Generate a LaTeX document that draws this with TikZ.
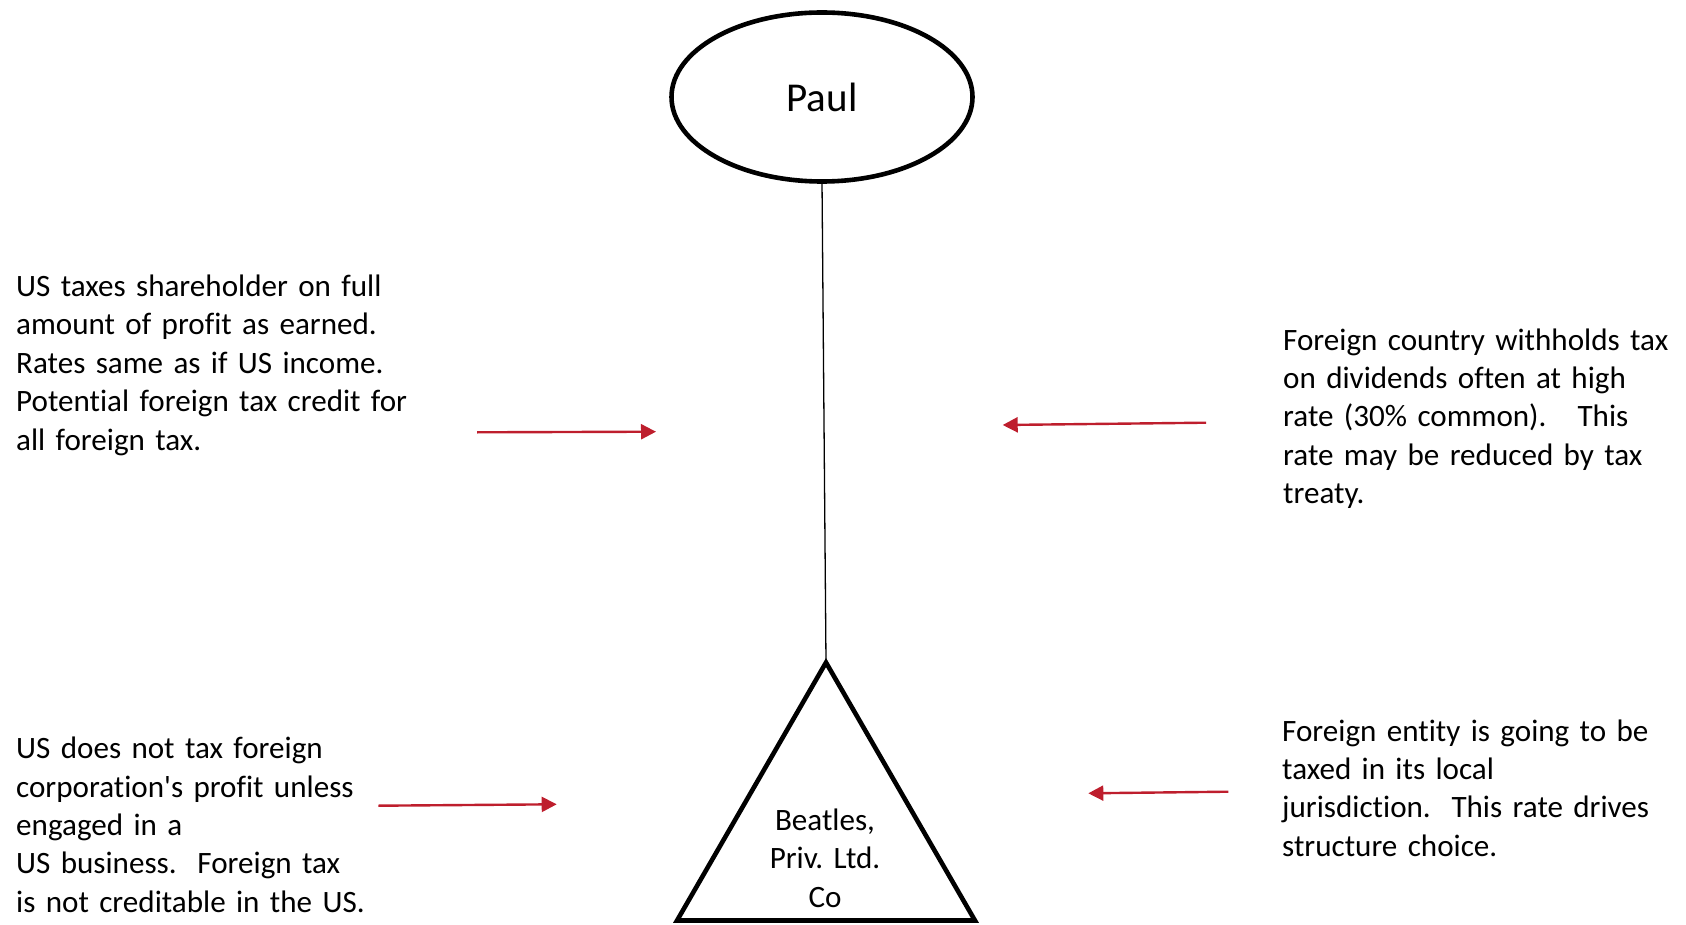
\documentclass[tikz,border=0pt]{standalone}
\usepackage{fontspec}
\setmainfont{Carlito}[Ligatures={NoCommon}]
\usetikzlibrary{shapes.geometric,arrows.meta}
\definecolor{arrowred}{RGB}{190,30,45}
\frenchspacing
\tikzset{
  bodytext/.style={anchor=base west, inner sep=0pt, text width=520pt, align=left,
    font=\fontsize{31.1}{38.4}\selectfont},
  redarrow/.style={draw=arrowred, line width=2.4pt,
    -{Triangle[length=15pt,width=15pt]}},
  heavy/.style={draw=black, line width=4.6pt, inner sep=0pt, outer sep=0pt}
}
\begin{document}
\begin{tikzpicture}[x=1pt,y=-1pt]
\useasboundingbox (0,0) rectangle (1686,925);

% shareholder
\node[heavy, ellipse, minimum width=301pt, minimum height=169pt,
      font=\fontsize{41}{48}\selectfont] (paul) at (822,97) {Paul};

% foreign company
\node[heavy, regular polygon, regular polygon sides=3, minimum size=344pt] (tri) at (826,834.5) {};
\node[anchor=base, inner sep=0pt, text width=200pt, align=center,
      font=\fontsize{31.1}{38.8}\selectfont] (co) at (825,830) {Beatles,\\Priv. Ltd.\\Co};

% ownership line
\draw[line width=1.3pt] (paul.south) -- (tri.corner 1);

% explanatory notes
\node[bodytext] (usshare) at (16,296.5) {US taxes shareholder on full\\amount of profit as earned.\\Rates same as if US income.\\Potential foreign tax credit for\\all foreign tax.};
\node[bodytext] (withhold) at (1283,350) {Foreign country withholds tax\\on dividends often at high\\rate (30\% common).\ \ \ This\\rate may be reduced by tax\\treaty.};
\node[bodytext] (uscorp) at (16,758.7) {US does not tax foreign\\corporation\textquotesingle s profit unless\\engaged in a\\US business.\ \ Foreign tax\\is not creditable in the US.};
\node[bodytext] (local) at (1282,741) {Foreign entity is going to be\\taxed in its local\\jurisdiction.\ \ This rate drives\\structure choice.};

% arrows
\coordinate (a1s) at (477,432.3);   \coordinate (a1e) at (656,431.7);
\coordinate (a2s) at (1206,422.7);  \coordinate (a2e) at (1002.7,425);
\coordinate (a3s) at (378.3,805.7); \coordinate (a3e) at (556.7,804.3);
\coordinate (a4s) at (1228.3,791.7);\coordinate (a4e) at (1088.3,793.3);
\draw[redarrow] (a1s) -- (a1e);
\draw[redarrow] (a2s) -- (a2e);
\draw[redarrow] (a3s) -- (a3e);
\draw[redarrow] (a4s) -- (a4e);
\end{tikzpicture}
\end{document}
